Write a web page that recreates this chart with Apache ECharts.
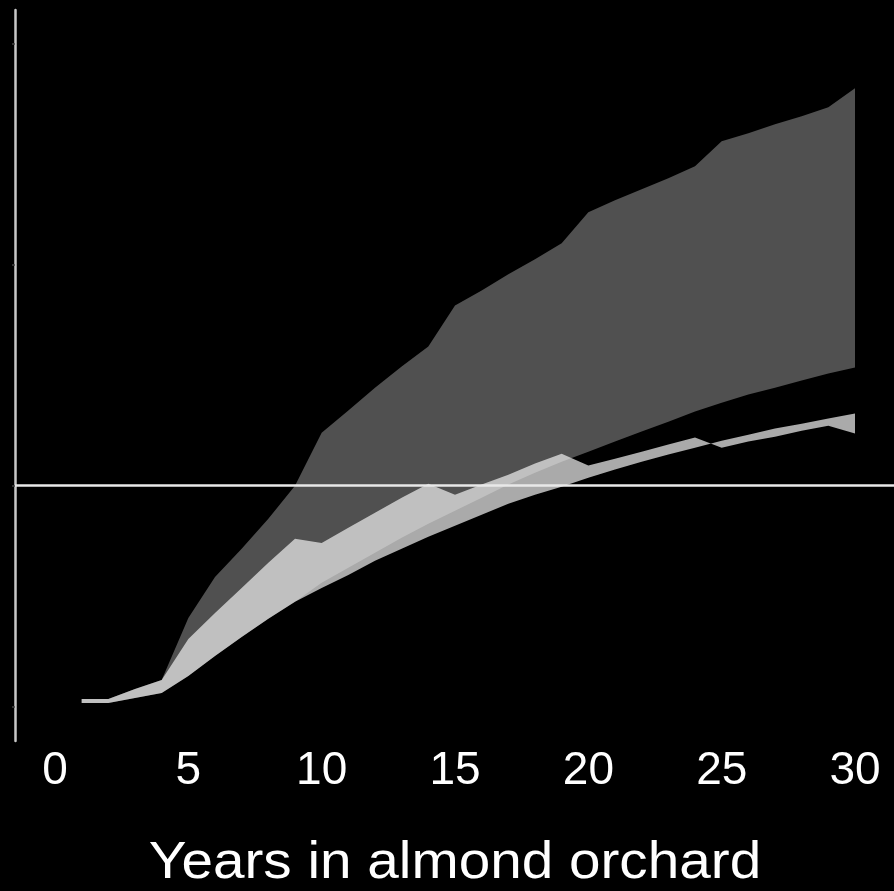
<!DOCTYPE html>
<html>
<head>
<meta charset="utf-8">
<script src="https://cdn.jsdelivr.net/npm/echarts@6/dist/echarts.min.js"></script>
<style>
html,body{margin:0;padding:0;background:#000;}
#chart{width:894px;height:891px;}
</style>
</head>
<body>
<div id="chart"></div>
<script>
// Years in almond orchard
var years = ['1','2','3','4','5','6','7','8','9','10','11','12','13','14','15','16','17','18','19','20','21','22','23','24','25','26','27','28','29','30'];
// Dark band: upper and lower bounds
var darkUpper = [-96.6,-96.6,-92.1,-88.0,-59.9,-41.3,-28.6,-15.0,0.0,24.0,34.0,44.4,54.0,63.0,81.6,88.4,95.7,102.5,109.8,123.8,129.3,134.2,139.2,144.7,156.0,159.6,163.7,167.3,171.4,180.0];
var darkLower = [-98.4,-98.4,-96.1,-93.9,-86.2,-77.1,-68.5,-60.3,-52.6,-44.0,-37.2,-30.4,-23.6,-17.2,-11.3,-5.4,0.5,5.9,10.9,15.4,20.0,24.5,29.0,33.6,37.6,41.3,44.4,47.6,50.8,53.5];
// Light band: jagged curve and smooth curve
var lightJagged = [-96.6,-96.6,-92.1,-88.0,-69.4,-57.6,-46.3,-34.9,-24.0,-25.9,-19.0,-12.2,-5.4,0.9,-4.1,0.5,5.0,10.0,14.5,9.1,12.2,15.4,18.6,21.8,17.2,20.0,22.2,24.9,27.2,23.6];
var lightSmooth = [-98.4,-98.4,-96.1,-93.9,-86.2,-77.1,-68.5,-60.3,-52.6,-46.3,-40.4,-34.0,-28.6,-23.1,-18.1,-13.2,-8.2,-4.1,-0.5,3.6,7.3,10.9,14.1,17.2,20.4,23.1,25.9,28.1,30.4,32.7];
var xTicks = [0,5,10,15,20,25,30];
var yTicks = [-100,0,100,200];
var xTitle = 'Years in almond orchard';

function diff(a,b){ return a.map(function(v,i){ return +(v-b[i]).toFixed(2); }); }

var Y_MIN = -115.6, Y_MAX = 215.4;
var chart = echarts.init(document.getElementById('chart'), null, {renderer:'canvas'});
var FONT = '"Liberation Sans", Arial, Helvetica, sans-serif';
chart.setOption({
  backgroundColor:'#000',
  animation:false,
  grid:[
    {left:15, right:0, top:10, bottom:150, containLabel:false},
    {left:81.67, right:39, top:10, bottom:150, containLabel:false}
  ],
  xAxis:[
    {gridIndex:0, type:'value', min:-1.5, max:31.46,
     axisLine:{show:false}, axisTick:{show:false}, splitLine:{show:false},
     axisLabel:{customValues:xTicks, color:'#fff', fontSize:46, fontFamily:FONT, margin:7}},
    {gridIndex:1, type:'category', data:years, boundaryGap:false, show:false}
  ],
  yAxis:[
    {gridIndex:0, type:'value', min:Y_MIN, max:Y_MAX,
     axisLine:{show:true, onZero:false, lineStyle:{color:'#c8c8c8', width:2.5}},
     axisTick:{show:true, customValues:yTicks, length:3, lineStyle:{color:'#444', width:1.5}},
     axisLabel:{show:false}, splitLine:{show:false}},
    {gridIndex:1, type:'value', min:Y_MIN, max:Y_MAX, show:false}
  ],
  graphic:[{
    type:'text', x:455, y:864, scaleX:1.09,
    style:{text:xTitle, fill:'#fff', font:'52px ' + FONT, align:'center', verticalAlign:'middle'}
  }],
  series:[
    {name:'darkBase', type:'line', xAxisIndex:1, yAxisIndex:1, stack:'dark', stackStrategy:'all', data:darkLower,
     showSymbol:false, silent:true, lineStyle:{opacity:0, width:0}, z:2},
    {name:'darkBand', type:'line', xAxisIndex:1, yAxisIndex:1, stack:'dark', stackStrategy:'all', data:diff(darkUpper,darkLower),
     showSymbol:false, silent:true, lineStyle:{opacity:0, width:0},
     areaStyle:{color:'#505050', opacity:1}, z:2},
    {name:'lightBase', type:'line', xAxisIndex:1, yAxisIndex:1, stack:'light', stackStrategy:'all', data:lightSmooth,
     showSymbol:false, silent:true, lineStyle:{opacity:0, width:0}, z:3},
    {name:'lightBand', type:'line', xAxisIndex:1, yAxisIndex:1, stack:'light', stackStrategy:'all', data:diff(lightJagged,lightSmooth),
     showSymbol:false, silent:true, lineStyle:{opacity:0, width:0},
     areaStyle:{color:'rgba(235,235,235,0.72)', opacity:1}, z:3},
    {name:'zero', type:'line', xAxisIndex:0, yAxisIndex:0, data:[], silent:true, z:5,
     markLine:{silent:true, symbol:'none', label:{show:false}, animation:false,
       lineStyle:{color:'#e8e8e8', width:2.5, type:'solid'}, data:[{yAxis:0}]}}
  ]
});
</script>
</body>
</html>
